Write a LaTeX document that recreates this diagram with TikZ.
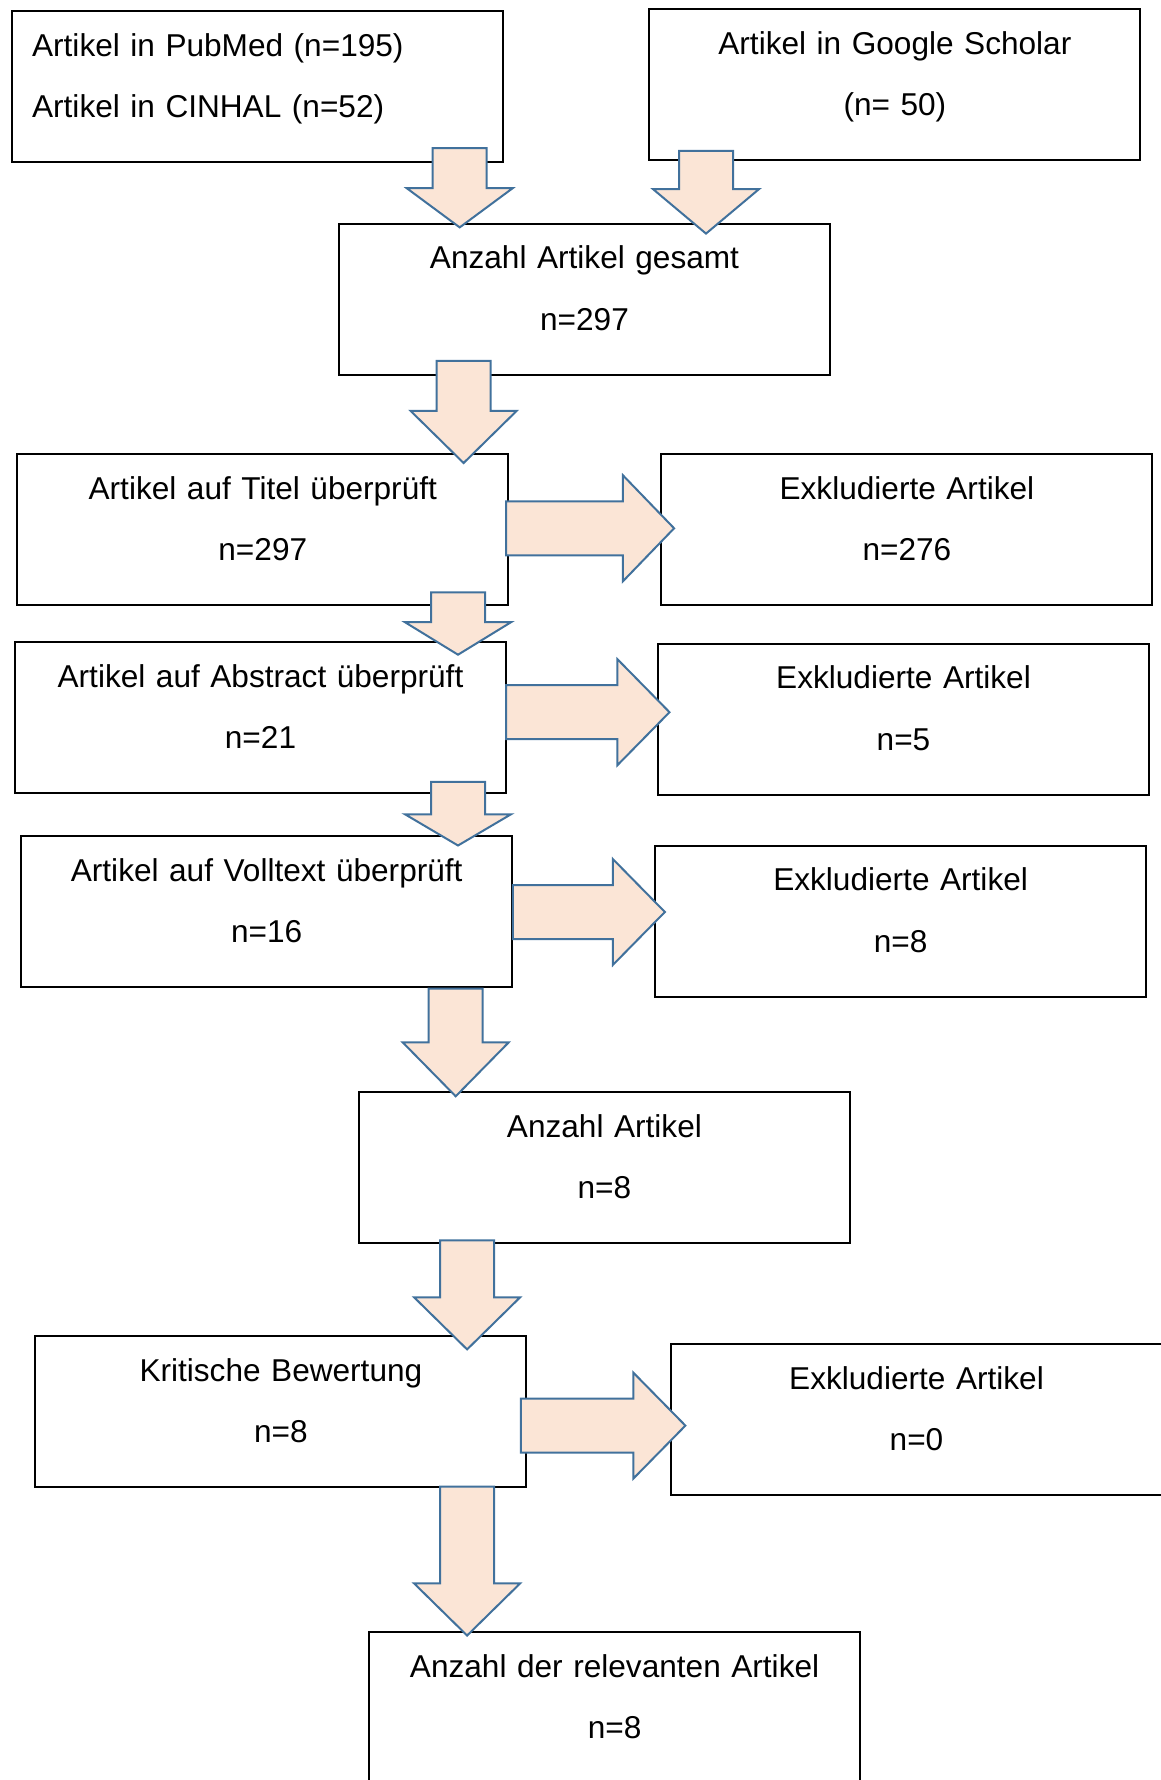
\documentclass[tikz,border=0pt]{standalone}
\usepackage{fontspec}
\setmainfont{Liberation Sans}
\usetikzlibrary{shapes.arrows}
\definecolor{pfeilrand}{HTML}{41719C}
\definecolor{pfeilfill}{HTML}{FBE5D6}
\begin{document}
\begin{tikzpicture}[
						x=0.5pt, y=-0.5pt,
						box/.style={rectangle, draw, line width=1pt, text width=225pt, inner xsep=10.25pt, inner ysep=0pt, minimum height=75.5pt, align=center, text height=11.6pt, text depth=41.8pt, font=\fontsize{15.8}{30.6}\selectfont},
						pfeil/.style={single arrow, draw=pfeilrand, fill=pfeilfill, line width=1pt, inner xsep=0pt, inner ysep=13pt, single arrow head extend=13pt, minimum width=0pt, anchor=tail},
						runter/.style={pfeil, rotate=-90}
					]
					\useasboundingbox (0,0) rectangle (1160,1780);
					\node[box, align=left] (pubmed) at (257.1,86.8) {Artikel in PubMed (n=195)\\Artikel in CINHAL (n=52)};
					\node[box] (scholar) at (894.9,84.6) {Artikel in Google Scholar\\(n= 50)};
					\node[box] (gesamt) at (584.5,299.1) {Anzahl Artikel gesamt\\n=297};
					\node[box] (titel) at (262.8,529.5) {Artikel auf Titel überprüft\\n=297};
					\node[box] (extitel) at (906.9,529.5) {Exkludierte Artikel\\n=276};
					\node[box] (abstract) at (260.5,717.3) {Artikel auf Abstract überprüft\\n=21};
					\node[box] (exabstract) at (903.5,719.0) {Exkludierte Artikel\\n=5};
					\node[box] (volltext) at (266.7,911.4) {Artikel auf Volltext überprüft\\n=16};
					\node[box] (exvolltext) at (900.6,921.0) {Exkludierte Artikel\\n=8};
					\node[box] (anzahl) at (604.4,1167.3) {Anzahl Artikel\\n=8};
					\node[box] (kritik) at (280.9,1411.4) {Kritische Bewertung\\n=8};
					\node[box] (exkritik) at (916.5,1419.3) {Exkludierte Artikel\\n=0};
					\node[box] (relevant) at (614.6,1707.6) {Anzahl der relevanten Artikel\\n=8};
					\node[runter, minimum height=39.6pt, single arrow tip angle=107] (pubmedpfeil) at (459.7,147.2) {};
					\node[runter, minimum height=41.4pt, single arrow tip angle=100] (scholarpfeil) at (706.0,149.8) {};
					\node[runter, minimum height=51.1pt, single arrow tip angle=91] (gesamtpfeil) at (463.6,359.8) {};
					\node[runter, minimum height=31.2pt, single arrow tip angle=117] (titelpfeil) at (458.0,591.3) {};
					\node[runter, minimum height=31.8pt, single arrow tip angle=119] (abstractpfeil) at (458.0,780.9) {};
					\node[runter, minimum height=53.9pt, single arrow tip angle=89] (volltextpfeil) at (455.7,987.5) {};
					\node[runter, minimum height=54.5pt, single arrow tip angle=91] (anzahlpfeil) at (467.1,1239.4) {};
					\node[runter, minimum height=74.4pt, single arrow tip angle=91] (kritikpfeil) at (467.1,1485.7) {};
					\node[pfeil, minimum height=84pt, single arrow tip angle=92] (extitelpfeil) at (505.1,528.3) {};
					\node[pfeil, minimum height=81.7pt, single arrow tip angle=91] (exabstractpfeil) at (505.1,712.2) {};
					\node[pfeil, minimum height=76pt, single arrow tip angle=91] (exvolltextpfeil) at (511.9,912.0) {};
					\node[pfeil, minimum height=82.3pt, single arrow tip angle=91] (exkritikpfeil) at (519.8,1425.6) {};
				\end{tikzpicture}
\end{document}
